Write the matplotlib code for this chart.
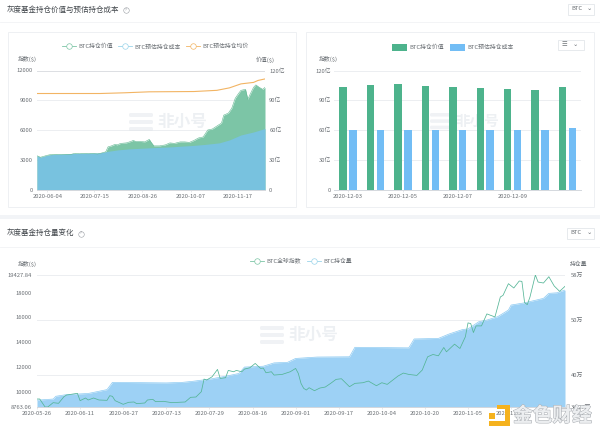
import numpy as np
import pandas as pd
import matplotlib
matplotlib.use("Agg")
import matplotlib.pyplot as plt
import matplotlib.patheffects as path_effects
from matplotlib.lines import Line2D
from matplotlib.patches import Rectangle, Patch, FancyBboxPatch

plt.rcParams["font.family"] = ["Noto Sans CJK SC", "DejaVu Sans"]
plt.rcParams["font.size"] = 4.2
plt.rcParams["axes.unicode_minus"] = False

W, H = 600, 432
c_text = "#6a6f74"
c_grid = "#eceef1"
c_axis = "#d4d8dd"


def pixel_axes(x0, y0, x1, y1):
    # y0 is the top edge, measured from the top of the picture
    return fig.add_axes([x0 / W, 1 - y1 / H, (x1 - x0) / W, (y1 - y0) / H])


def style_axis(ax, pad=3):
    for s in ax.spines.values():
        s.set_visible(False)
    ax.spines["bottom"].set_visible(True)
    ax.spines["bottom"].set_color(c_axis)
    ax.spines["bottom"].set_linewidth(0.7)
    ax.tick_params(axis="y", length=0, labelsize=4.2, labelcolor=c_text, pad=pad)
    ax.tick_params(axis="x", length=1.5, width=0.4, color=c_axis, labelsize=4.2,
                   labelcolor=c_text, pad=1.5)
    ax.patch.set_visible(False)


def watermark(ax, ox, oy, s, fs):
    for dy in [0, 7, 14]:
        ax.add_patch(FancyBboxPatch((ox, oy + dy * s), 24 * s, 4 * s, boxstyle="round,pad=0,rounding_size=1.5",
                                    fc="#dfe4ea", ec="none", alpha=0.45))
    ax.text(ox + 28 * s, oy + 9 * s, "非小号", fontsize=fs, color="#dfe4ea", alpha=0.55,
            va="center", ha="left", fontweight="bold")


fig = plt.figure(figsize=(W / 100, H / 100), dpi=100, facecolor="white")

#####
# page background
#####

bg = fig.add_axes([0, 0, 1, 1])
bg.set_xlim(0, W)
bg.set_ylim(H, 0)
bg.axis("off")
bg.add_patch(Rectangle((0, 215), W, 4, fc="#f2f4f7", ec="none"))
bg.plot([0, W], [21.5, 21.5], color="#f1f3f5", lw=0.6)
bg.plot([0, W], [246.5, 246.5], color="#f1f3f5", lw=0.6)
bg.add_patch(Rectangle((7.5, 31.5), 288, 175, fc="white", ec="#eef0f3", lw=0.7))
bg.add_patch(Rectangle((305.5, 31.5), 288, 175, fc="white", ec="#eef0f3", lw=0.7))

bg.text(7, 10, "灰度基金持仓价值与预估持仓成本", fontsize=5.4, color="#41464b", va="center")
bg.text(7, 233.5, "灰度基金持仓量变化", fontsize=5.4, color="#41464b", va="center")
for px, py in [(125.5, 10), (80.5, 233.5)]:
    bg.plot([px], [py], "o", ms=4.0, mfc="white", mec="#9a9fa4", mew=0.4)
    bg.text(px, py, "?", fontsize=2.8, color="#80858a", ha="center", va="center")

# BTC dropdowns and the small chart switch
for bx, by, bw, bh in [(567.5, 3.5, 26, 11), (566.5, 227.5, 27, 11)]:
    bg.add_patch(Rectangle((bx, by), bw, bh, fc="white", ec="#e3e6ea", lw=0.6))
    bg.text(bx + 3.5, by + bh / 2, "BTC", fontsize=4.2, color=c_text, va="center")
    bg.text(bx + bw - 7, by + bh / 2 - 0.3, "⌄", fontsize=4.6, color=c_text, va="center",
            family="DejaVu Sans")
bg.add_patch(Rectangle((557.5, 39.5), 26, 10, fc="white", ec="#e3e6ea", lw=0.6))
bg.text(564, 44.5, "☰", fontsize=4.6, color=c_text, ha="center", va="center", family="DejaVu Sans")
bg.text(575.5, 44.2, "⌄", fontsize=4.6, color=c_text, ha="center", va="center", family="DejaVu Sans")

# this one sits behind the bars
watermark(bg, 430, 113, 0.9, 10.5)

#####
# Chart 1 - holding value and estimated cost
#####

value_1 = pd.DataFrame([
    ("2020-05-26", 34), ("2020-05-29", 32.5), ("2020-06-01", 33.5), ("2020-06-04", 34.5),
    ("2020-06-08", 35.5), ("2020-06-12", 35.5), ("2020-06-16", 35), ("2020-06-20", 35.5),
    ("2020-06-25", 35.5), ("2020-06-28", 36.5), ("2020-07-02", 36), ("2020-07-06", 36.2),
    ("2020-07-10", 36), ("2020-07-14", 36.2), ("2020-07-18", 35.8), ("2020-07-22", 37),
    ("2020-07-25", 38), ("2020-07-27", 43), ("2020-07-30", 44), ("2020-08-02", 45.5),
    ("2020-08-04", 45), ("2020-08-07", 46.5), ("2020-08-12", 47), ("2020-08-16", 48.5),
    ("2020-08-18", 49.5), ("2020-08-20", 48.5), ("2020-08-24", 48.5), ("2020-08-28", 48),
    ("2020-09-01", 50.5), ("2020-09-03", 47), ("2020-09-05", 44), ("2020-09-10", 44),
    ("2020-09-15", 45), ("2020-09-19", 47), ("2020-09-23", 46.5), ("2020-09-28", 48),
    ("2020-10-02", 48), ("2020-10-06", 47.5), ("2020-10-10", 49.5), ("2020-10-14", 52),
    ("2020-10-18", 53), ("2020-10-22", 60), ("2020-10-26", 61), ("2020-10-30", 64),
    ("2020-11-03", 67), ("2020-11-05", 75), ("2020-11-09", 77), ("2020-11-12", 82),
    ("2020-11-15", 92), ("2020-11-18", 97), ("2020-11-20", 100), ("2020-11-24", 101),
    ("2020-11-26", 91), ("2020-11-28", 96), ("2020-12-01", 103), ("2020-12-03", 105.5),
    ("2020-12-06", 103), ("2020-12-09", 101), ("2020-12-11", 103),
], columns=["date", "value"])
value_1["date"] = pd.to_datetime(value_1["date"])

cost_1 = pd.DataFrame([
    ("2020-05-26", 34), ("2020-05-29", 32.5), ("2020-06-04", 34.5), ("2020-06-10", 35.5),
    ("2020-07-01", 36.5), ("2020-07-20", 37), ("2020-07-27", 38.5), ("2020-08-05", 40),
    ("2020-08-15", 41), ("2020-09-01", 42), ("2020-09-20", 43), ("2020-10-10", 44.5),
    ("2020-10-20", 45.5), ("2020-11-01", 47), ("2020-11-10", 50), ("2020-11-20", 55),
    ("2020-12-01", 58), ("2020-12-11", 61.5),
], columns=["date", "value"])
cost_1["date"] = pd.to_datetime(cost_1["date"])

price_1 = pd.DataFrame([
    ("2020-05-26", 9680), ("2020-07-20", 9680), ("2020-08-10", 9750), ("2020-09-01", 9850),
    ("2020-10-10", 9880), ("2020-10-30", 10000), ("2020-11-10", 10250), ("2020-11-20", 10650),
    ("2020-12-01", 10800), ("2020-12-05", 11000), ("2020-12-11", 11150),
], columns=["date", "value"])
price_1["date"] = pd.to_datetime(price_1["date"])

ax1 = pixel_axes(37, 70.5, 265, 189.5)
ax1r = ax1.twinx()
ax1r.fill_between(value_1["date"], value_1["value"], color="#7cc5a6", lw=0)
ax1r.plot(value_1["date"], value_1["value"], color="#62b892", lw=0.4)
ax1r.fill_between(cost_1["date"], cost_1["value"], color="#78c2df", lw=0)
ax1.plot(price_1["date"], price_1["value"], color="#f2b463", lw=0.8)
ax1.set_zorder(ax1r.get_zorder() + 1)

ax1.set_xlim(pd.Timestamp("2020-05-26"), pd.Timestamp("2020-12-11"))
ax1.set_ylim(0, 12000)
ax1r.set_ylim(0, 120)
ax1.set_yticks([0, 3000, 6000, 9000, 12000])
ax1r.set_yticks([0, 30, 60, 90, 120], ["0", "30亿", "60亿", "90亿", "120亿"])
ticks_1 = ["2020-06-04", "2020-07-15", "2020-08-26", "2020-10-07", "2020-11-17"]
ax1.set_xticks(pd.to_datetime(ticks_1), ticks_1)
style_axis(ax1)
style_axis(ax1r)
ax1r.grid(axis="y", color=c_grid, lw=0.7)
ax1r.set_axisbelow(True)
ax1r.get_ygridlines()[-1].set_color("#dcdfe3")
ax1.text(-0.083, 1.094, "指数($)", transform=ax1.transAxes, color=c_text, fontsize=4.2, va="center")
ax1.text(0.96, 1.094, "价值($)", transform=ax1.transAxes, color=c_text, fontsize=4.2, va="center", ha="left")
ax1.legend(
    handles=[
        Line2D([], [], color="#7cc5a6", lw=0.6, marker="o", ms=4, mfc="white", mew=0.5),
        Line2D([], [], color="#9ad4ea", lw=0.6, marker="o", ms=4, mfc="white", mew=0.5),
        Line2D([], [], color="#f2b463", lw=0.6, marker="o", ms=4, mfc="white", mew=0.5),
    ],
    labels=["BTC持仓价值", "BTC预估持仓成本", "BTC预估持仓均价"],
    ncol=3, loc="center", bbox_to_anchor=(0.52, 1.2), frameon=False, fontsize=4.2,
    labelcolor=c_text, handlelength=2.4, columnspacing=0.9, handletextpad=0.4,
)

#####
# Chart 2 - last nine days as bars
#####

days = ["2020-12-03", "2020-12-04", "2020-12-05", "2020-12-06", "2020-12-07",
        "2020-12-08", "2020-12-09", "2020-12-10", "2020-12-11"]
value_2 = [103, 105, 106, 104.5, 103.5, 102, 101.5, 100, 103.5]
cost_2 = [59.5, 59.5, 59.5, 59.5, 60, 60, 60.5, 60.5, 62]

ax2 = pixel_axes(334, 70.5, 581, 189.5)
pos = np.arange(len(days))
ax2.bar(pos - 0.17, value_2, width=0.27, color="#4db38c", zorder=3)
ax2.bar(pos + 0.19, cost_2, width=0.27, color="#72bdf5", zorder=3)
ax2.set_xlim(-0.5, 8.5)
ax2.set_ylim(0, 120)
ax2.set_yticks([0, 30, 60, 90, 120], ["0", "30亿", "60亿", "90亿", "120亿"])
ax2.set_xticks(pos[:8:2], days[:8:2])
style_axis(ax2, pad=2)
ax2.grid(axis="y", color=c_grid, lw=0.7)
ax2.set_axisbelow(True)
ax2.text(-0.06, 1.094, "指数($)", transform=ax2.transAxes, color=c_text, fontsize=4.2, va="center", ha="left")
ax2.legend(
    handles=[Patch(fc="#4db38c", ec="none"), Patch(fc="#72bdf5", ec="none")],
    labels=["BTC持仓价值", "BTC预估持仓成本"],
    ncol=2, loc="center", bbox_to_anchor=(0.48, 1.195), frameon=False, fontsize=4.2,
    labelcolor=c_text, handlelength=2.6, handleheight=1.4, columnspacing=1.0, handletextpad=0.4,
)

#####
# Chart 3 - holding amount vs global index
#####

index_3 = [
    (0, 9409), (1, 9409), (3, 8763), (4, 8763), (6, 9114), (8, 9060), (10, 9597), (11, 9731),
    (15, 9866), (16, 9275), (18, 9490), (19, 9329), (21, 9490), (23, 9329), (26, 9302),
    (27, 9678), (28, 9624), (29, 9275), (32, 8980), (34, 9141), (36, 9168), (37, 9033),
    (40, 9087), (41, 9329), (43, 9382), (44, 9195), (47, 9221), (50, 9114), (55, 9168),
    (57, 9544), (59, 9570), (61, 10000), (62, 11020), (63, 10940), (65, 11208), (67, 11800),
    (68, 11074), (70, 11128), (71, 11718), (73, 11611), (74, 11718), (76, 11611), (77, 11826),
    (79, 11933), (81, 12282), (83, 11880), (84, 11906), (85, 11530), (87, 11611), (88, 11343),
    (91, 11396), (94, 11611), (96, 11880), (97, 11477), (98, 10671), (99, 10268), (100, 10134),
    (101, 10322), (103, 10080), (105, 10295), (107, 10376), (109, 10671), (111, 10993),
    (113, 11047), (116, 10403), (118, 10671), (121, 10725), (123, 10859), (126, 10483),
    (128, 10725), (130, 10590), (134, 11262), (136, 11504), (138, 11396), (141, 11316),
    (143, 11745), (145, 12819), (147, 13007), (149, 12900), (151, 13571), (152, 13222),
    (155, 13840), (157, 13490), (159, 14430), (160, 15558), (161, 15504), (162, 14779),
    (163, 15316), (165, 15316), (167, 16283), (170, 16041), (172, 17652), (173, 17786),
    (175, 18726), (177, 18377), (179, 18941), (180, 18914), (181, 17196), (182, 17035),
    (183, 17652), (185, 19428), (186, 18860), (188, 18780), (190, 19290), (192, 18538),
    (194, 18108), (196, 18512),
]
amount_3 = [
    (0, 35.5), (6, 35.7), (7, 36.2), (11, 36.5), (19, 36.7), (23, 37.1), (26, 37.4), (28, 38.7),
    (48, 38.6), (54, 38.7), (58, 38.9), (65, 39.35), (70, 39.8), (75, 40.3), (77, 41.45),
    (84, 41.6), (88, 42.2), (93, 42.3), (96, 43), (104, 43.25), (116, 43.3), (118, 45),
    (138, 44.9), (140, 46.5), (149, 46.6), (153, 47.4), (158, 48.2), (160, 48.3), (164, 49.6),
    (167, 49.9), (171, 50.5), (175, 51.7), (176, 52.6), (181, 53), (188, 53.8), (190, 54.7),
    (193, 54.8), (196, 55.3),
]
index_3 = pd.DataFrame(index_3, columns=["i", "value"])
amount_3 = pd.DataFrame(amount_3, columns=["i", "value"])

ax3 = pixel_axes(37, 275, 565, 407)
ax3r = ax3.twinx()
ax3r.fill_between(amount_3["i"], amount_3["value"], 30, color="#9dd1f5", lw=0)
ax3r.plot(amount_3["i"], amount_3["value"], color="#8ccaf2", lw=0.5)
ax3.plot(index_3["i"], index_3["value"], color="#54b596", lw=0.55)
ax3.set_zorder(ax3r.get_zorder() + 1)

ax3.set_xlim(0, 196)
ax3.set_ylim(8763.06, 19427.84)
ax3r.set_ylim(34.27, 58)
ax3.set_yticks([8763.06, 10000, 12000, 14000, 16000, 18000, 19427.84],
               ["8763.06", "10000", "12000", "14000", "16000", "18000", "19427.84"])
ax3r.set_yticks([34.27, 40, 50, 58], ["34.27万", "40万", "50万", "58万"])
ticks_3 = ["2020-05-26", "2020-06-11", "2020-06-27", "2020-07-13", "2020-07-29", "2020-08-16",
           "2020-09-01", "2020-09-17", "2020-10-04", "2020-10-20", "2020-11-05", "2020-11-21"]
ax3.set_xticks(np.arange(len(ticks_3)) * 16, ticks_3)
style_axis(ax3, pad=3.6)
style_axis(ax3r, pad=4)
ax3r.grid(axis="y", color=c_grid, lw=0.7)
ax3r.set_axisbelow(True)
ax3.text(-0.036, 1.08, "指数($)", transform=ax3.transAxes, color=c_text, fontsize=4.2, va="center", ha="left")
ax3.text(1.0095, 1.08, "持仓量", transform=ax3.transAxes, color=c_text, fontsize=4.2, va="center", ha="left")
ax3.legend(
    handles=[
        Line2D([], [], color="#7cc5a6", lw=0.6, marker="o", ms=4, mfc="white", mew=0.5),
        Line2D([], [], color="#9ad4ea", lw=0.6, marker="o", ms=4, mfc="white", mew=0.5),
    ],
    labels=["BTC全球指数", "BTC持仓量"],
    ncol=2, loc="center", bbox_to_anchor=(0.5, 1.105), frameon=False, fontsize=4.2,
    labelcolor=c_text, handlelength=2.4, columnspacing=0.9, handletextpad=0.4,
)

#####
# watermarks
#####

fg = fig.add_axes([0, 0, 1, 1], zorder=20)
fg.set_xlim(0, W)
fg.set_ylim(H, 0)
fg.axis("off")
watermark(fg, 129, 113, 1.0, 12)
watermark(fg, 260, 326, 1.0, 12)

# jinse logo in the bottom corner
fg.add_patch(Rectangle((497, 405), 13, 4, fc="#f5b21e", ec="none"))
fg.add_patch(Rectangle((505, 405), 5, 21, fc="#f5b21e", ec="none"))
fg.add_patch(Rectangle((489, 421), 21, 5, fc="#f5b21e", ec="none"))
fg.add_patch(Rectangle((489, 413), 6, 6, fc="#f5b21e", ec="none"))
fg.text(513, 416, "金色财经", fontsize=14.2, color="#eceef0", va="center", ha="left", fontweight="bold",
        path_effects=[path_effects.withStroke(linewidth=0.7, foreground="#a9adb2")])

fig.savefig("out.png", dpi=100)
